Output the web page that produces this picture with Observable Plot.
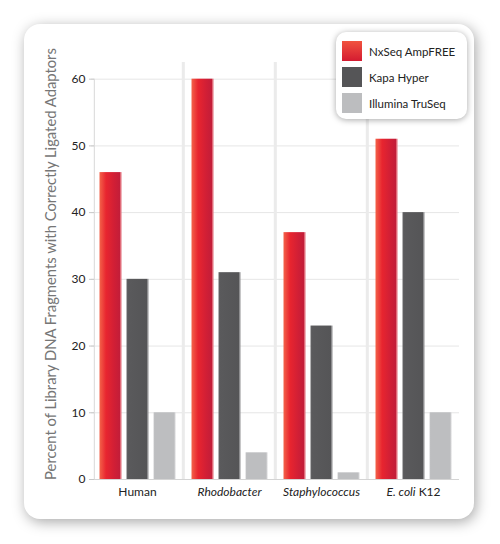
<!DOCTYPE html>
<html><head><meta charset="utf-8">
<script src="https://cdn.jsdelivr.net/npm/d3@7"></script>
<script src="https://cdn.jsdelivr.net/npm/@observablehq/plot@0.6"></script>
<style>
html,body{margin:0;padding:0;background:#fff;}
body{width:500px;height:544px;position:relative;overflow:hidden;font-family:Lato,sans-serif;}
#card{position:absolute;left:24px;top:24px;width:450px;height:495px;border-radius:16px;background:#fff;box-shadow:2px 3px 14px rgba(0,0,0,0.35);}
#chart{position:absolute;left:0;top:0;}
#legend{position:absolute;left:336px;top:32px;width:131px;height:87px;border-radius:10px;background:#fff;box-shadow:0 1px 6px rgba(0,0,0,0.35);}
.item{position:absolute;left:6px;height:20px;display:flex;align-items:center;font-size:11.5px;color:#222;white-space:nowrap;}
.sw{width:20px;height:20px;margin-right:7px;flex:none;}
</style></head><body>
<div id="card"></div><div id="chart"></div><div id="legend"></div>
<script>
const categories = ["Human", "Rhodobacter", "Staphylococcus", "E. coli K12"];
const italicParts = ["", "Rhodobacter", "Staphylococcus", "E. coli"];
const series = ["NxSeq AmpFREE", "Kapa Hyper", "Illumina TruSeq"];
const nxseq = [46, 60, 37, 51];
const kapa = [30, 31, 23, 40];
const truseq = [10, 4, 1, 10];
const yTicks = [0, 10, 20, 30, 40, 50, 60];
const yLabel = "Percent of Library DNA Fragments with Correctly Ligated Adaptors";

const valuesBySeries = [nxseq, kapa, truseq];
const data = categories.flatMap((c, i) => series.map((s, j) => ({category: c, series: s, value: valuesBySeries[j][i]})));

const W = 500, H = 544, mL = 90.5, mR = 40, mT = 62, mB = 65;
const step = (W - mL - mR) / categories.length;

const chart = Plot.plot({
  width: W, height: H,
  marginLeft: mL, marginRight: mR, marginTop: mT, marginBottom: mB,
  style: {fontFamily: "Lato, sans-serif", background: "transparent", overflow: "visible"},
  fx: {domain: categories, padding: 0, label: null, axis: null},
  x: {domain: series, paddingInner: 0.2, paddingOuter: 0.3, axis: null},
  y: {domain: [0, 62.5], axis: null},
  color: {domain: series, range: ["url(#gRed)", "url(#gDark)", "url(#gLight)"]},
  marks: [
    Plot.ruleY(yTicks.slice(1), {stroke: "#e6e6e6"}),
    Plot.ruleX(categories.slice(1), {fx: d => d, x: null, dx: -step / 2, stroke: "#ebebeb", strokeWidth: 3}),
    Plot.ruleX(categories.slice(0, 1), {fx: d => d, x: null, dx: -step / 2 + 3, y1: 0, y2: 60, stroke: "#d8d8d8"}),
    Plot.barY(data, {fx: "category", x: "series", y: "value", fill: "series"}),
    Plot.ruleY([0], {stroke: "#d4d4d4"}),
    Plot.axisY({ticks: yTicks, tickSize: 5, tickPadding: 4, dx: 3, stroke: "#c8c8c8", fill: "#222", fontSize: 12, label: null, tickFormat: d => d}),
    Plot.axisFx({anchor: "bottom", tickSize: 0, tickPadding: 8, fontSize: 12, fill: "#222", fontWeight: "normal", label: null}),
    Plot.text([yLabel], {facet: "super", frameAnchor: "left", rotate: -90, dx: -36, dy: -7, fontSize: 14.8, fill: "#767676", textAnchor: "middle", lineAnchor: "bottom"})
  ]
});

// gradients for bars
const svg = d3.select(chart);
const defs = svg.insert("defs", ":first-child");
function grad(id, stops) {
  const g = defs.append("linearGradient").attr("id", id).attr("x1", 0).attr("x2", 1).attr("y1", 0).attr("y2", 0);
  stops.forEach(([o, c]) => g.append("stop").attr("offset", o).attr("stop-color", c));
}
grad("gRed", [[0, "#f36249"], [0.3, "#e8252f"], [0.65, "#d21f35"], [0.93, "#c21d39"], [0.94, "#e06a78"], [1, "#e06a78"]]);
grad("gDark", [[0, "#6a6a6c"], [0.06, "#5a5a5c"], [0.93, "#555557"], [0.94, "#8d8d8f"], [1, "#8d8d8f"]]);
grad("gLight", [[0, "#d0d0d2"], [0.05, "#bdbec0"], [0.95, "#bdbec0"], [0.96, "#d6d6d8"], [1, "#d6d6d8"]]);

// italic species names in x labels
svg.selectAll("text").each(function() {
  const t = this.textContent;
  const i = categories.indexOf(t);
  if (i < 0 || !italicParts[i]) return;
  const sel = d3.select(this);
  sel.text(null);
  const it = italicParts[i];
  sel.append("tspan").attr("font-style", "italic").text(it);
  const rest = t.slice(it.length);
  if (rest) sel.append("tspan").text(rest);
});

document.getElementById("chart").appendChild(chart);

// legend
const swatches = ["linear-gradient(#f1533f,#d41b31)", "#555557", "#bcbdbf"];
const legend = d3.select("#legend");
series.forEach((s, j) => {
  const it = legend.append("div").attr("class", "item").style("top", (9 + 26 * j) + "px");
  it.append("div").attr("class", "sw").style("background", swatches[j]);
  it.append("span").text(s);
});
</script>
</body></html>
